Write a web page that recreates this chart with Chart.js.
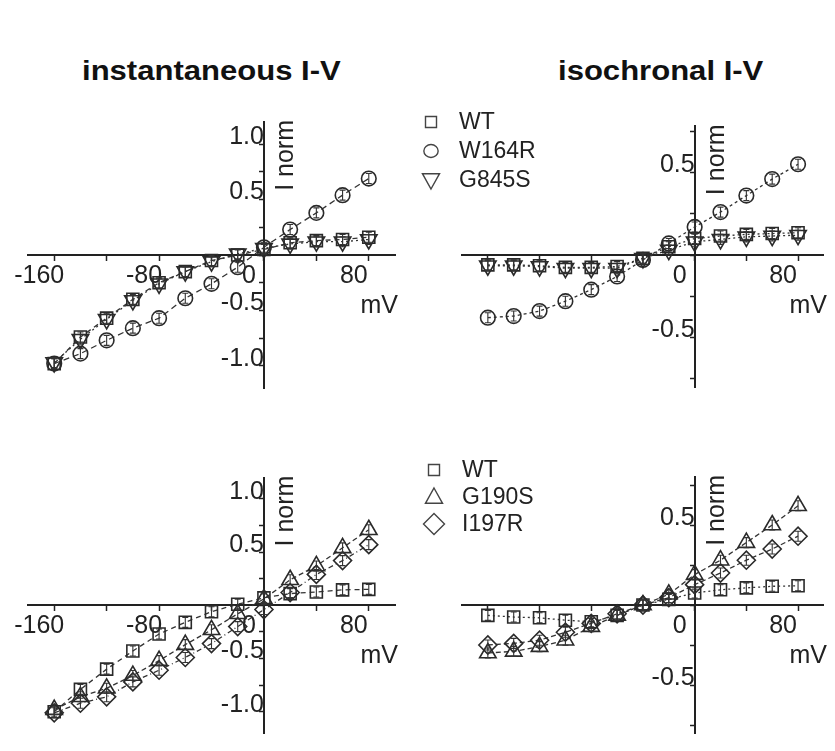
<!DOCTYPE html>
<html>
<head>
<meta charset="utf-8">
<script src="https://cdn.jsdelivr.net/npm/chart.js@4.4.1/dist/chart.umd.min.js"></script>
<style>
  body { margin: 0; background: #fff; width: 835px; height: 751px; position: relative; overflow: hidden;
         font-family: "Liberation Sans", Arial, sans-serif; }
  canvas { position: absolute; }
  .title { position: absolute; font-weight: bold; font-size: 27px; line-height: 27px; color: #111;
           white-space: nowrap; transform: scaleX(1.15); transform-origin: left top; }
</style>
</head>
<body>
<div class="title" style="left:82px;top:58px">instantaneous I-V</div>
<div class="title" style="left:558px;top:58px">isochronal I-V</div>
<canvas id="p1" width="418" height="335" style="left:0;top:95px"></canvas>
<canvas id="p2" width="417" height="335" style="left:418px;top:95px"></canvas>
<canvas id="p3" width="418" height="311" style="left:0;top:440px"></canvas>
<canvas id="p4" width="417" height="311" style="left:418px;top:440px"></canvas>
<script>
// voltage steps (mV)
const volts = [-160, -140, -120, -100, -80, -60, -40, -20, 0, 20, 40, 60, 80];

// instantaneous I-V, top row
const wtInst1    = [-0.98, -0.74, -0.57, -0.40, -0.25, -0.15, -0.05, 0.00, 0.05, 0.11, 0.13, 0.14, 0.16];
const w164rInst  = [-0.98, -0.89, -0.77, -0.66, -0.57, -0.39, -0.26, -0.11, 0.07, 0.23, 0.38, 0.54, 0.69];
const g845sInst  = [-0.97, -0.76, -0.58, -0.41, -0.26, -0.15, -0.06, 0.01, 0.06, 0.10, 0.12, 0.12, 0.14];
// isochronal I-V, top row
const wtIso1     = [-0.06, -0.06, -0.065, -0.075, -0.075, -0.07, -0.02, 0.05, 0.10, 0.115, 0.125, 0.13, 0.135];
const w164rIso   = [-0.38, -0.37, -0.34, -0.28, -0.21, -0.13, -0.03, 0.07, 0.17, 0.26, 0.36, 0.46, 0.55];
const g845sIso   = [-0.065, -0.065, -0.07, -0.08, -0.08, -0.08, -0.02, 0.03, 0.08, 0.095, 0.11, 0.115, 0.12];
// instantaneous I-V, bottom row
const wtInst2    = [-1.00, -0.79, -0.60, -0.43, -0.27, -0.16, -0.06, 0.01, 0.07, 0.11, 0.125, 0.145, 0.15];
const g190sInst  = [-0.98, -0.86, -0.78, -0.66, -0.52, -0.37, -0.23, -0.08, 0.06, 0.24, 0.37, 0.54, 0.71];
const i197rInst  = [-1.01, -0.92, -0.86, -0.72, -0.61, -0.49, -0.36, -0.20, -0.04, 0.12, 0.29, 0.42, 0.57];
// isochronal I-V, bottom row
const wtIso2     = [-0.065, -0.075, -0.08, -0.095, -0.105, -0.065, 0.00, 0.035, 0.075, 0.095, 0.107, 0.117, 0.12];
const g190sIso   = [-0.30, -0.29, -0.26, -0.22, -0.135, -0.065, 0.00, 0.067, 0.19, 0.28, 0.39, 0.50, 0.62];
const i197rIso   = [-0.25, -0.24, -0.22, -0.17, -0.115, -0.055, 0.00, 0.046, 0.127, 0.20, 0.28, 0.35, 0.43];

// ticks
const xTickVals = [-160, -120, -80, -40, 0, 40, 80];
const xLabelsLeft = [-160, -80, 0, 80];
const xLabelsRight = [0, 80];
const yTicksWide = [-1, -0.75, -0.5, -0.25, 0, 0.25, 0.5, 0.75, 1];
const yLabelsWide = [-1, -0.5, 0.5, 1];
const yTicksNarrow = [-0.75, -0.5, -0.25, 0, 0.25, 0.5, 0.75];
const yLabelsNarrow = [-0.5, 0.5];

const INK = '#222';
const tickFont = { family: '"Liberation Sans", Arial, sans-serif', size: 25 };

function series(label, values, style, radius, rotation, dash) {
  return {
    label: label,
    data: volts.map((v, i) => ({ x: v, y: values[i] })),
    showLine: true,
    borderColor: '#333',
    borderWidth: 1.3,
    borderDash: dash,
    pointStyle: style,
    pointRadius: radius,
    pointRotation: rotation,
    pointBorderColor: '#2a2a2a',
    pointBorderWidth: 1.6,
    pointBackgroundColor: 'rgba(0,0,0,0)'
  };
}

function drawSymbol(ctx, style, x, y, r, rot) {
  ctx.beginPath();
  if (style === 'rect') {
    ctx.rect(x - r, y - r, 2 * r, 2 * r);
  } else if (style === 'circle') {
    ctx.ellipse(x, y, r * 1.1, r, 0, 0, Math.PI * 2);
  } else if (style === 'triangle') {
    const s = rot ? -1 : 1;
    ctx.moveTo(x, y - s * r);
    ctx.lineTo(x + r * 0.95, y + s * r * 0.7);
    ctx.lineTo(x - r * 0.95, y + s * r * 0.7);
    ctx.closePath();
  } else {
    ctx.moveTo(x, y - r);
    ctx.lineTo(x + r, y);
    ctx.lineTo(x, y + r);
    ctx.lineTo(x - r, y);
    ctx.closePath();
  }
  ctx.stroke();
}

const legendSize = { rect: 5.5, circle: 6.5, triangle: 9, rectRot: 10.5 };

// error bars, axis names and the legend
const decor = {
  id: 'decor',
  afterDatasetsDraw(chart, args, opts) {
    const ctx = chart.ctx;
    const xs = chart.scales.x, ys = chart.scales.y;
    const x0 = xs.getPixelForValue(0), y0 = ys.getPixelForValue(0);
    ctx.save();
    ctx.strokeStyle = '#333';
    ctx.lineWidth = 1.1;
    ctx.setLineDash([]);
    chart.data.datasets.forEach((ds, i) => {
      chart.getDatasetMeta(i).data.forEach(pt => {
        ctx.beginPath();
        ctx.moveTo(pt.x, pt.y - 5); ctx.lineTo(pt.x, pt.y + 5);
        ctx.moveTo(pt.x - 3, pt.y - 5); ctx.lineTo(pt.x + 3, pt.y - 5);
        ctx.moveTo(pt.x - 3, pt.y + 5); ctx.lineTo(pt.x + 3, pt.y + 5);
        ctx.stroke();
      });
    });

    ctx.fillStyle = INK;
    ctx.font = '25px "Liberation Sans", Arial, sans-serif';
    ctx.textAlign = 'right';
    ctx.textBaseline = 'alphabetic';
    ctx.fillText('mV', xs.right + 3, y0 + 58);

    if (opts.legend) {
      const L = opts.legend;
      ctx.font = '23px "Liberation Sans", Arial, sans-serif';
      ctx.textAlign = 'left';
      ctx.textBaseline = 'middle';
      ctx.lineWidth = 1.4;
      ctx.strokeStyle = '#444';
      chart.data.datasets.forEach((ds, i) => {
        const y = L.y + i * L.dy;
        drawSymbol(ctx, ds.pointStyle, L.x, y, legendSize[ds.pointStyle], ds.pointRotation);
        ctx.fillText(ds.label, L.x + 28, y + 1);
      });
    }

    ctx.font = '25px "Liberation Sans", Arial, sans-serif';
    ctx.textAlign = 'right';
    ctx.textBaseline = 'alphabetic';
    ctx.translate(x0 + 29, ys.top - 2);
    ctx.rotate(-Math.PI / 2);
    ctx.fillText('I norm', 0, 0);
    ctx.restore();
  }
};

function makePanel(id, box, area, yRange, yTicks, yLabels, xLabels, datasets, legend) {
  const near = (list, v) => list.some(t => Math.abs(t - v) < 1e-6);
  new Chart(document.getElementById(id), {
    type: 'scatter',
    data: { datasets: datasets },
    options: {
      responsive: false,
      animation: false,
      events: [],
      layout: {
        padding: {
          left: area.x0 - box.left,
          right: box.left + box.width - area.x1,
          top: area.y0 - box.top,
          bottom: box.top + box.height - area.y1
        }
      },
      scales: {
        x: {
          type: 'linear', min: -180, max: 100,
          position: { y: 0 },
          afterBuildTicks: s => { s.ticks = xTickVals.map(v => ({ value: v })); },
          ticks: {
            callback: v => near(xLabels, v) ? String(v) : '',
            labelOffset: -15, padding: 1, font: tickFont, color: INK,
            maxRotation: 0, autoSkip: false
          },
          grid: { drawOnChartArea: false, drawTicks: true, tickLength: 5, tickWidth: 1.5, tickColor: INK },
          border: { display: true, color: INK, width: 2 }
        },
        y: {
          type: 'linear', min: yRange[0], max: yRange[1],
          position: { x: 0 },
          afterBuildTicks: s => { s.ticks = yTicks.map(v => ({ value: v })); },
          ticks: {
            callback: v => near(yLabels, v) ? v.toFixed(1) : '',
            labelOffset: -7, padding: 3, font: tickFont, color: INK, autoSkip: false
          },
          grid: { drawOnChartArea: false, drawTicks: true, tickLength: 4, tickWidth: 1.5, tickColor: INK },
          border: { display: true, color: INK, width: 2 }
        }
      },
      plugins: {
        legend: { display: false },
        tooltip: { enabled: false },
        decor: { legend: legend }
      }
    },
    plugins: [decor]
  });
}

makePanel('p1', { left: 0, top: 95, width: 418, height: 335 }, { x0: 28, x1: 395, y0: 122, y1: 388 },
  [-1.2, 1.2], yTicksWide, yLabelsWide, xLabelsLeft, [
    series('WT', wtInst1, 'rect', 8.5, 0, [5, 4]),
    series('W164R', w164rInst, 'circle', 7.3, 0, [6, 4]),
    series('G845S', g845sInst, 'triangle', 9.5, 180, [2, 3])
  ], null);

makePanel('p2', { left: 418, top: 95, width: 417, height: 335 }, { x0: 462, x1: 828, y0: 126.3, y1: 387 },
  [-0.8, 0.78], yTicksNarrow, yLabelsNarrow, xLabelsRight, [
    series('WT', wtIso1, 'rect', 8.5, 0, [2, 3]),
    series('W164R', w164rIso, 'circle', 7.3, 0, [3, 3]),
    series('G845S', g845sIso, 'triangle', 9.5, 180, [2, 3])
  ], { x: 431 - 418, y: 122 - 95, dy: 29 });

makePanel('p3', { left: 0, top: 440, width: 418, height: 311 }, { x0: 28, x1: 395, y0: 477.6, y1: 740.4 },
  [-1.2, 1.2], yTicksWide, yLabelsWide, xLabelsLeft, [
    series('WT', wtInst2, 'rect', 8.5, 0, [5, 4]),
    series('G190S', g190sInst, 'triangle', 9.5, 0, [5, 3]),
    series('I197R', i197rInst, 'rectRot', 9, 0, [5, 3, 1, 3])
  ], null);

makePanel('p4', { left: 418, top: 440, width: 417, height: 311 }, { x0: 462, x1: 828, y0: 477, y1: 741 },
  [-0.8, 0.8], yTicksNarrow, yLabelsNarrow, xLabelsRight, [
    series('WT', wtIso2, 'rect', 8.5, 0, [2, 3]),
    series('G190S', g190sIso, 'triangle', 9.5, 0, [5, 3]),
    series('I197R', i197rIso, 'rectRot', 9, 0, [5, 3])
  ], { x: 434 - 418, y: 470 - 440, dy: 27 });
</script>
</body>
</html>
